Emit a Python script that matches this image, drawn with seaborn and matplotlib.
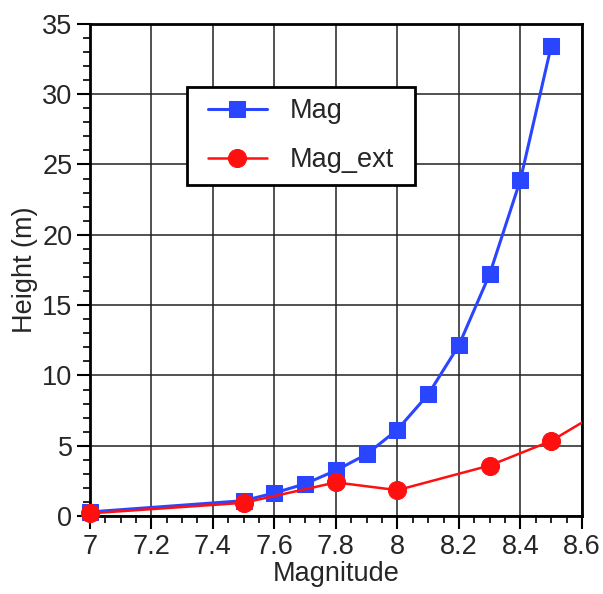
import numpy as np
import pandas as pd
import matplotlib
matplotlib.use("Agg")
import matplotlib.pyplot as plt
from matplotlib.ticker import MultipleLocator
from matplotlib.transforms import Bbox, TransformedBbox
from matplotlib.lines import Line2D
from matplotlib.legend_handler import HandlerLine2D
import seaborn as sns

# values
mag_x = [7.0, 7.5, 7.6, 7.7, 7.8, 7.9, 8.0, 8.1, 8.2, 8.3, 8.4, 8.5]
mag_y = [0.3, 1.1, 1.65, 2.3, 3.25, 4.4, 6.15, 8.65, 12.15, 17.2, 23.9, 33.4]
ext_x = [7.0, 7.5, 7.8, 8.0, 8.3, 8.5, 8.7]
ext_y = [0.2, 0.95, 2.4, 1.85, 3.6, 5.35, 7.95]

sns.set_style("ticks")
plt.rcParams["font.family"] = ["Liberation Sans", "DejaVu Sans"]

fig = plt.figure(figsize=(6.03, 5.94), dpi=100)
ax = fig.add_axes([0.149, 0.131, 0.816, 0.829])

df_mag = pd.DataFrame({"Magnitude": mag_x, "Height": mag_y})
df_ext = pd.DataFrame({"Magnitude": ext_x, "Height": ext_y})

sns.lineplot(data=df_mag, x="Magnitude", y="Height", ax=ax, color="#2a45ff",
             marker="s", markersize=12, markeredgecolor="#2a45ff",
             linewidth=2.2, label="Mag", zorder=4)
sns.lineplot(data=df_ext, x="Magnitude", y="Height", ax=ax, color="#ff1010",
             marker="o", markersize=13, markeredgecolor="#ff1010",
             linewidth=1.8, label="Mag_ext", zorder=5)

# let the markers at x=7 sit over the spine, but keep the clip at x=8.6
clip = TransformedBbox(Bbox([[-0.05, -0.05], [1.0, 1.05]]), ax.transAxes)
for ln in ax.lines:
    ln.set_clip_box(clip)

ax.set_xlim(7.0, 8.6)
ax.set_ylim(0, 35)
ax.xaxis.set_minor_locator(MultipleLocator(0.05))
ax.yaxis.set_major_locator(MultipleLocator(5))
ax.yaxis.set_minor_locator(MultipleLocator(1))
ax.set_xticks(np.arange(7.0, 8.61, 0.2))
ax.set_xticklabels(["7", "7.2", "7.4", "7.6", "7.8", "8", "8.2", "8.4", "8.6"])

ax.grid(True, which="major", color="#222222", linewidth=1.1)
ax.set_axisbelow(True)
for s in ax.spines.values():
    s.set_linewidth(2)
    s.set_color("black")

ax.tick_params(which="major", direction="out", length=9.5, width=1.5,
               labelsize=19.5, color="black", pad=3)
ax.tick_params(which="minor", direction="out", length=5, width=1.2, color="black")

ax.set_xlabel("Magnitude", fontsize=19.5, labelpad=1)
ax.set_ylabel("Height (m)", fontsize=19.5, labelpad=3)

leg = ax.legend(loc="upper left", bbox_to_anchor=(0.197, 0.669, 0.463, 0.203),
                mode="expand", fontsize=19.5,
                frameon=True, fancybox=False, edgecolor="black",
                handlelength=2.55, handletextpad=0.85, borderpad=0.42,
                labelspacing=0.85, borderaxespad=0,
                handler_map={Line2D: HandlerLine2D(xpad=0.35)})
leg.get_frame().set_linewidth(2)
leg.get_frame().set_alpha(1)

fig.savefig("out.png", dpi=100)
